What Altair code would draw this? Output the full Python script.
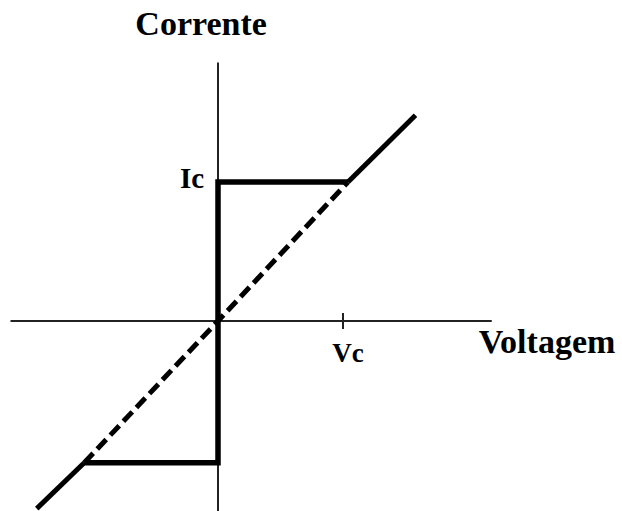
import altair as alt
import pandas as pd

# Units: voltage in multiples of Vc, current in multiples of Ic
VC = 1.0
IC = 1.0

# Coordinate axes (extent of the drawn cross)
axis_v = [-1.66, 2.19]
axis_i = [-1.37, 1.86]
tick_half = 0.058

# Superconducting branch: zero-voltage jump between -Ic and +Ic
branch_v = [-1.07, 0.0, 0.0, 1.04]
branch_i = [-1.02, -1.02, 1.0, 1.0]

# Ohmic (normal-state) line: solid outside, dashed between the knees
ohm_low_v = [-1.45, -1.07]
ohm_low_i = [-1.35, -1.02]
ohm_mid_v = [-1.07, 0.0, 1.04]
ohm_mid_i = [-1.02, 0.0, 1.0]
ohm_high_v = [1.04, 1.58]
ohm_high_i = [1.0, 1.48]

# Labels
label_text = ["Corrente", "Voltagem", "Ic", "Vc"]
label_v = [-0.135, 2.632, -0.11, 1.04]
label_i = [2.06, -0.23, 0.96, -0.295]
label_size = [34, 34, 29, 27]
label_align = ["center", "center", "right", "center"]

W, H = 622, 511
x_scale = alt.Scale(domain=[-1.744, 3.232], nice=False, zero=False)
y_scale = alt.Scale(domain=[-1.367, 2.309], nice=False, zero=False)
FONT = "Liberation Serif"


def path_df(vs, is_):
    return pd.DataFrame({"V": vs, "I": is_, "k": list(range(len(vs)))})


def path_layer(vs, is_, width, dash=None):
    kw = dict(color="black", strokeWidth=width, strokeJoin="miter", clip=False)
    if dash:
        kw["strokeDash"] = dash
    return alt.Chart(path_df(vs, is_)).mark_line(**kw).encode(
        x=alt.X("V:Q", scale=x_scale, axis=None),
        y=alt.Y("I:Q", scale=y_scale, axis=None),
        order="k:O",
    )


axes_df = pd.DataFrame({
    "x": [axis_v[0], 0.0, VC],
    "x2": [axis_v[1], 0.0, VC],
    "y": [0.0, axis_i[0], -tick_half],
    "y2": [0.0, axis_i[1], tick_half],
})
axes = alt.Chart(axes_df).mark_rule(color="#222222", strokeWidth=2).encode(
    x=alt.X("x:Q", scale=x_scale, axis=None),
    x2="x2:Q",
    y=alt.Y("y:Q", scale=y_scale, axis=None),
    y2="y2:Q",
)

branch = path_layer(branch_v, branch_i, 5.5)
ohm_low = path_layer(ohm_low_v, ohm_low_i, 5)
ohm_mid = path_layer(ohm_mid_v, ohm_mid_i, 5, dash=[13, 6])
ohm_high = path_layer(ohm_high_v, ohm_high_i, 5)

text_layers = []
for t, v, i, s, a in zip(label_text, label_v, label_i, label_size, label_align):
    df = pd.DataFrame({"V": [v], "I": [i], "t": [t]})
    text_layers.append(
        alt.Chart(df).mark_text(
            font=FONT, fontWeight="bold", fontSize=s, align=a,
            baseline="alphabetic", color="black",
        ).encode(
            x=alt.X("V:Q", scale=x_scale, axis=None),
            y=alt.Y("I:Q", scale=y_scale, axis=None),
            text="t:N",
        )
    )

chart = alt.layer(axes, ohm_low, ohm_mid, ohm_high, branch, *text_layers).properties(
    width=W, height=H, padding=0, autosize=alt.AutoSizeParams(type="none"),
    background="white",
).configure_view(stroke=None)

chart.save("out.html", embed_options={"renderer": "svg", "actions": False})
